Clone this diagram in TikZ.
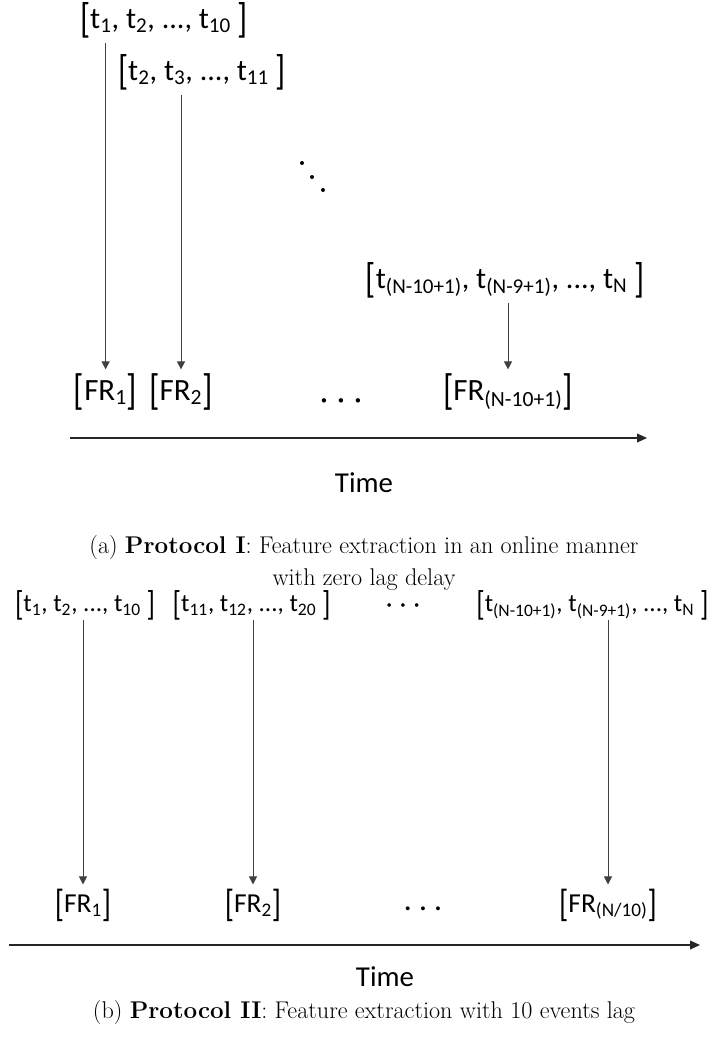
\documentclass[tikz,border=0pt]{standalone}
\usepackage{fontspec}
\newfontfamily\calfont{Carlito}
\usetikzlibrary{arrows.meta}
\newcommand\lbk{\raisebox{-0.13em}{\scalebox{1.1}[1.38]{[}}}
\newcommand\rbk{\raisebox{-0.13em}{\scalebox{1.1}[1.38]{]}}}
\newcommand\tsub[1]{\textsubscript{#1}}

\begin{document}
\begin{tikzpicture}[
    window/.style={font=\calfont\fontsize{21.4}{25}\selectfont, inner sep=0.12cm},
    feature/.style={font=\calfont\fontsize{22}{26}\selectfont, inner sep=0.1cm},
    window low/.style={font=\calfont\fontsize{17.8}{21}\selectfont, inner sep=0pt},
    feature low/.style={font=\calfont\fontsize{19.5}{23}\selectfont, inner sep=0.1cm},
    time label/.style={font=\calfont\fontsize{20.5}{24}\selectfont},
    caption/.style={align=center, font=\fontsize{17.2}{22.8}\selectfont},
    feed/.style={-{Triangle[length=2mm,width=2mm]}, draw=black!75, line width=0.7pt},
    axis/.style={-{Triangle[length=2.5mm,width=2.2mm]}, draw=black!85, line width=1pt}
]
    \useasboundingbox (0,0) rectangle (17.925,-25.95);

    % Protocol I: sliding windows
    \node[window] (win1) at (4.1,-0.5) {\lbk t\tsub{1}, t\tsub{2}, ..., t\tsub{10} \rbk};
    \node[window] (win2) at (5.05,-1.8) {\lbk t\tsub{2}, t\tsub{3}, ..., t\tsub{11} \rbk};
    \node[window] (winN) at (12.625,-7.0)
        {\lbk t\tsub{(N-10+1)}, t\tsub{(N-9+1)}, ..., t\tsub{N} \rbk};
    \foreach \p in {(7.55,-4.075),(7.8,-4.425),(8.075,-4.75)}
        \fill \p circle (0.05);

    \node[feature] (fr1) at (2.64,-9.8) {\lbk FR\tsub{1}\rbk};
    \node[feature] (fr2) at (4.525,-9.8) {\lbk FR\tsub{2}\rbk};
    \node[feature] (frdots) at (8.525,-10.1) {·\hspace{0.3em}·\hspace{0.3em}·};
    \node[feature] (frN) at (12.7,-9.8) {\lbk FR\tsub{(N-10+1)}\rbk};

    \draw[feed] (fr1.north |- win1.south) -- (fr1.north);
    \draw[feed] (fr2.north |- win2.south) -- (fr2.north);
    \draw[feed] (frN.north |- winN.south) -- (frN.north);

    \coordinate (ta0) at (1.75,-10.95);
    \coordinate (ta1) at (16.175,-10.95);
    \draw[axis] (ta0) -- (ta1);
    \node[time label] (timeA) at (9.1,-12.075) {Time};
    \node[caption] (capA) at (9.1,-14.075)
        {(a) \textbf{Protocol I}: Feature extraction in an online manner\\
         with zero lag delay};

    % Protocol II: disjoint windows
    \node[window low] (bwin1) at (2.125,-15.125) {\lbk t\tsub{1}, t\tsub{2}, ..., t\tsub{10} \rbk};
    \node[window low] (bwin2) at (6.29,-15.125) {\lbk t\tsub{11}, t\tsub{12}, ..., t\tsub{20} \rbk};
    \node[window low] (bwindots) at (10.075,-15.2) {·\hspace{0.3em}·\hspace{0.3em}·};
    \node[window low] (bwinN) at (14.81,-15.125)
        {\lbk t\tsub{(N-10+1)}, t\tsub{(N-9+1)}, ..., t\tsub{N} \rbk};

    \node[feature low] (bfr1) at (2.075,-22.625) {\lbk FR\tsub{1}\rbk};
    \node[feature low] (bfr2) at (6.325,-22.625) {\lbk FR\tsub{2}\rbk};
    \node[feature low] (bfrdots) at (10.575,-22.8) {·\hspace{0.3em}·\hspace{0.3em}·};
    \node[feature low] (bfrN) at (15.2,-22.625) {\lbk FR\tsub{(N/10)}\rbk};

    \draw[feed] (bfr1.north |- bwin1.south) -- (bfr1.north);
    \draw[feed] (bfr2.north |- bwin2.south) -- (bfr2.north);
    \draw[feed] (bfrN.north |- bwinN.south) -- (bfrN.north);

    \coordinate (tb0) at (0.225,-23.625);
    \coordinate (tb1) at (17.5,-23.625);
    \draw[axis] (tb0) -- (tb1);
    \node[time label] (timeB) at (9.625,-24.425) {Time};
    \node[caption] (capB) at (9.1,-25.3)
        {(b) \textbf{Protocol II}: Feature extraction with 10 events lag};
\end{tikzpicture}
\end{document}
